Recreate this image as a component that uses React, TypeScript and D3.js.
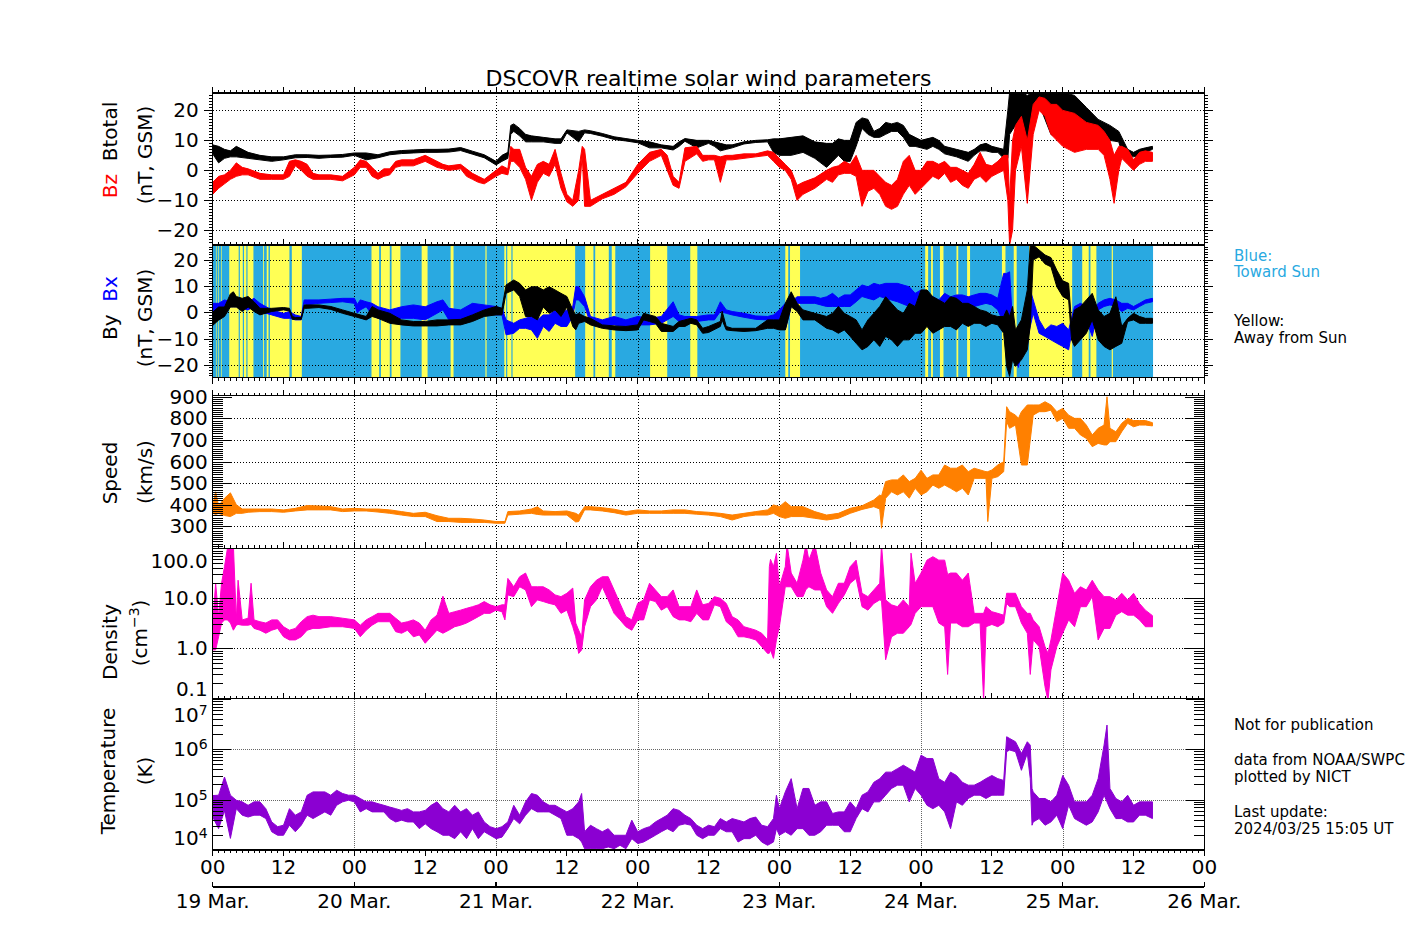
import React from "react";
import * as d3 from "d3";

// [hour since 19 Mar 00 UT, low, high]
type Row = [number, number, number];

const btotal: Row[] = [
  [0,5.5,8.5],[1,2.5,8],[2,4,7],[3,4.5,6.5],[4,4.5,8],[6,4,6],[8,3.5,5],[10,3,4.5],[12,3.5,4.5],[14,4.2,5.2],[16,4.3,5.2],[18,4,5],[20,4.3,5.1],[22,4.4,5.3],[24,5,5.8],[26,3.5,5.8],[28,4.2,5.2],[30,5.2,6.2],[32,5.6,6.6],[34,5.8,6.8],[36,6,7],[38,6,7],[40,6.1,7.1],[42,6.6,7.6],[44,5.4,6.4],[46,4.2,5.2],[48,1.8,3],[49,3,5],[50,4,6],[50.5,12,15],[51,13,15.5],[52,11.5,14],[53,9.5,12],[54,9.5,11.5],[56,9.5,11],[58,9,10.5],[59,9,10.5],[60,12.5,13.5],[62,9.5,13],[63,12.5,13.5],[64,12.3,13.2],[66,11.4,12.3],[68,10.3,11.2],[70,9.8,10.6],[72,9.2,10],[74,7.5,9.5],[76,7.5,8.5],[78,6.8,8],[79,8,9.5],[80,9.7,10.6],[82,7.5,10],[84,9,10],[85,8,9.5],[86,6.5,9],[87,7,8.5],[88,7.5,8.5],[90,8.8,9.5],[92,9.3,10],[94,9.5,10.2],[95,6,10.5],[96,5,10.5],[98,5,11],[100,6,11.5],[102,4,9.5],[104,1,9],[105,3,9],[106,5,10.5],[107,3,10],[108,3,10],[109,8,16],[110,14,17.5],[111,12,17],[112,11,13],[113,11,14],[114,12,16],[115,13,15.5],[116,13,16],[117,11,15],[118,8,12],[119,8,11],[120,7.5,10],[121,7,10.5],[122,8,11],[123,7,10],[124,5.5,8],[126,4.5,7],[128,3,6],[129,5,7],[130,6.5,8.5],[131,6.5,9],[132,6,8],[133,6,7.5],[134,4,7],[134.7,4,20],[135,12,26],[136,15,26],[137,11,26],[138,9,25],[139,18,26],[140,22,26],[141,17,26],[142,12,26],[143,11,26],[144,10,26],[146,11,25],[148,12,21],[150,12,17],[152,10,15],[153.5,9.5,13],[154,6,11],[155,5.5,7],[156,4.5,6],[157,5,7],[158,6,7.5],[159.2,7,8]
];

const bz: Row[] = [
  [0,-8,-4],[1,-6,-2],[2,-4.5,-1.5],[3,-3,0],[4,-2,2.5],[5,-1.5,1],[6,-1.5,0.5],[8,-3,-1],[10,-3,-1.5],[12,-3,-1.5],[13,-2,3],[14,1.5,3.5],[15,0,3],[16,-2,2],[17,-3,-1],[18,-3,-1.5],[20,-3,-1.5],[22,-3.5,-2],[24,-1.5,1],[25,1,3.5],[26,1,3],[27,-2,1],[28,-3,-1],[29,-2,0.5],[30,-1.5,0.5],[31,1,3],[32,1.5,3.5],[34,1.5,3.5],[36,3,5],[38,1,3],[39,0.5,2],[40,0,1.5],[42,0.5,2],[43,-2,0.5],[44,-3,-1],[45,-4,-2],[46,-4.5,-3],[48,-2,0],[49,-1,1.5],[50,-1.5,0.5],[50.5,3,8],[51,3,7],[52,1,7],[53,-3,1],[54,-10,-2],[55,-4,2],[56,-1,3],[57,-2,2],[58,2,7],[59,-6,-1],[60,-10.5,-8],[61,-12,-10],[62,-10,0],[62.6,5,8],[63,-12,7],[64,-12,-10],[66,-9.5,-8],[68,-8,-6],[70,-5.5,-4],[72,-1,2],[74,3,6],[76,5,7],[77,0,5],[78,-5,-2],[79,-6,-4],[80,3,7.5],[82,5.5,8],[83,3,5],[84,3.5,5],[85,3.5,5],[86,-4,4.5],[87,3.5,5],[88,3.5,5],[90,4,5.5],[92,4.5,5.5],[94,5,6.5],[95,3,6],[96,1,4],[97,0,2],[98,-3,0],[99,-10,-5],[100,-8,-4],[102,-6,-2.5],[104,-3,0],[105,-4,1],[106,-1.5,1.5],[107,-1,3],[108,-1,2],[109,-2,5],[110,-12,0],[111,-7,0],[112,-6,0],[113,-8,-2],[114,-12,-4],[115,-13,-5],[116,-12,-3],[117,-8,3],[118,-5,5],[119,-8,0],[120,-6,0],[121,-4,3],[122,-2,3],[123,-3,2],[124,-1,3],[125,-4,1],[126,-3,1],[127,-5,0],[128,-6,-1],[129,-3,2],[130,-2,6],[131,-4,2],[132,-2,1.5],[133,-1,3],[134,0,5],[134.7,-10,5],[135,-25,-10],[135.5,-20,10],[136,0,15],[137,8,18],[138,-11,10],[139,12,22],[140,20,24.5],[141,18,24],[142,12,22],[143,10,22],[144,8,20],[146,6,19],[148,7,16],[150,7,15],[151,5,13],[152,-3,10],[152.7,-11,5],[153.5,0,8],[154,4,8],[155,2,7],[156,0,3.5],[157,2,6],[158,3,6.5],[159.2,3,6]
];

const by: Row[] = [
  [0,-5,0],[1,-3,2],[2,-1.6,2],[3,2,7],[3.5,2,7.8],[4,2,6],[5,0.3,5.3],[6,2,6],[7,0.3,4],[8,-1,1.5],[10,0.3,1.5],[12,0.9,1.8],[13,0.5,1.5],[13.5,-2.7,-1.6],[14,-2.7,-2],[15,-2.7,-2],[15.5,1.5,2.8],[16,1.5,2.8],[18,1.8,2.8],[20,1.1,2.2],[22,-0.4,0.9],[24,-1.6,-0.4],[26,-2.9,-1.6],[27,-1.6,2.2],[28,-2.3,0.9],[30,-4.2,-0.4],[32,-4.8,-2.9],[34,-5.2,-3.5],[36,-5.2,-3.5],[38,-5.2,-2.9],[40,-4.8,-2.9],[42,-4.8,-2.7],[44,-3.5,-1],[46,-1.6,0.9],[48,-1,2.2],[49,-1,1.5],[49.7,7.2,10.4],[51,8.5,12.3],[52,6,11],[53,-1.6,8.5],[54,-1.6,9.7],[55,-2.9,9.7],[56,2,8.5],[57,-0.4,9.7],[58,0.9,8.5],[59,-1.6,7.2],[60,2,6],[61,-5.4,0.9],[61.5,-6.7,-1],[62,-4.2,-0.4],[63,-3.5,-1.6],[64,-4.8,-2.3],[66,-6.1,-4.8],[68,-6.7,-5.2],[70,-7,-5.4],[72,-6.7,-4.8],[73,-2.9,-0.4],[74,-3.5,-1],[75,-4.2,-1.6],[76,-7.3,-4.2],[78,-7.3,-5.4],[79,-5.4,-3.5],[80,-5.4,-2.9],[81,-4.2,-2.3],[82,-4.8,-2.9],[83,-8,-6.1],[84,-7.7,-5.4],[86,-5.4,-3.5],[86.3,-3,0.4],[87,-6.7,-5.4],[88,-7,-6.1],[90,-7.3,-6.1],[92,-7,-6.1],[94,-6.1,-2.9],[95,-6.1,-2.9],[96,-6.7,-2.9],[97,-6.7,3.4],[98,2.1,7.8],[99,0.3,3.4],[100,-2.9,0.9],[102,-2.9,-0.4],[104,-6.1,-1.6],[105,-6.7,-0.4],[106,-8,2.2],[107,-6.7,-0.4],[108,-9.2,-1.6],[109,-11.8,-2.9],[110,-14.3,-6.7],[111,-13,-2.9],[112,-10.5,-0.4],[113,-13,2.2],[114,-9.2,5.9],[115,-10.5,3.4],[116,-13,0.9],[117,-10.5,-0.4],[118,-10.5,3.4],[119,-8,2.2],[120,-8,8.5],[121,-5.4,8.5],[122,-8,5.9],[123,-6.7,4.7],[124,-5.4,3.4],[125,-5.4,5.9],[126,-6.7,5.3],[127,-4.2,3.4],[128,-5.4,3.4],[129,-4.2,2.2],[130,-4.2,0.9],[131,-5.4,0.3],[132,-4.2,-1],[133,-4.8,-1.6],[134,-8,-1.6],[134.5,-20.6,0.9],[135,-24.4,-1.6],[135.5,-18.1,2.2],[136,-20.6,-6.7],[137,-18.1,-2.9],[138,-14.3,8.5],[138.5,-5,25.6],[139,19.9,25.6],[140,21.1,23.7],[141,18.4,21.8],[142,17.3,20.8],[143,9.7,16],[144,6,12],[145,4.7,11],[145.5,-10.5,-4.2],[146,-13,0.9],[147,-10.5,2.2],[148,-8,4.7],[149,-2.9,7.2],[150,-10.5,0.9],[151,-13,-1.6],[152,-14.3,-0.4],[153,-13,5.9],[154,-11.8,-5.4],[155,-3.5,-2.3],[156,-2.9,-0.4],[157,-4.2,-1.6],[158,-4.2,-2.3],[159.2,-4.2,-2.3]
];

const bx: Row[] = [
  [0,-4.2,3.4],[1,-0.4,3.4],[2,0.9,4.7],[3,2.1,4],[4,2.1,4],[5,1.5,4],[6,0.9,4],[7,2.2,5.3],[8,0.3,3.4],[10,-1,0.9],[12,-2.3,-0.4],[13,-2.3,0.3],[14,-2.9,-1],[15,-2.9,-1.6],[15.5,3.4,4.7],[16,2.8,4.7],[18,3.4,4.7],[20,3.7,5],[22,4,5.3],[24,3.4,5.3],[24.5,-0.3,3],[25,0.9,4.7],[26,2.1,4],[27,-1,3.4],[28,-2.3,2.1],[30,-2.9,0.9],[32,-2.3,2.1],[34,-2.3,2.8],[36,-2.9,2.1],[38,-0.4,4],[39,0.9,4.7],[40,-2.9,1.5],[42,-2.9,0.9],[44,-1.6,3.4],[46,-0.4,2.8],[48,-1,2.2],[49,-1,1.5],[49.7,-8.6,-2.9],[51,-8,-4.2],[52,-6.1,-2.9],[53,-6.1,-2.3],[54,-6.7,-1.6],[55,-9.9,-2.9],[56,-5.4,-1],[57,-7.3,-1],[58,-4.2,0.9],[59,-5.4,-0.4],[60,-5.4,0.9],[61,-1.6,2.2],[61.5,4.7,9.7],[62,4.7,9.7],[63,2.2,5.9],[64,-4.2,-1.6],[66,-5.4,-2.9],[68,-4.8,-1.6],[70,-5.4,-2.9],[72,-4.8,-1.6],[74,-4.8,-2.3],[76,-4.2,-1.6],[78,-1.6,4],[79,-3.5,-1],[80,-4.2,-1.6],[82,-3.5,-1.6],[84,-2.9,-1],[85,-2.9,-1],[86,0.3,4],[87,-0.4,0.9],[88,-1,0.3],[90,-1.9,-0.4],[92,-2.7,-1.4],[94,-2.9,-1.6],[95,-3.5,-1],[96,-4.2,0.9],[97,-6.7,3.4],[98,2.1,4],[99,3.4,5.9],[100,3.4,5.9],[102,3.4,5.9],[103,2.8,5.3],[104,2.2,5.9],[105,2.2,7.2],[106,2.2,5.3],[107,2.2,6.6],[108,2.2,6.6],[109,4,8.5],[110,6,10.4],[111,5.3,9.7],[112,4.7,11],[113,6,10.4],[114,5.3,11],[116,4,11],[118,2.2,9.7],[119,0.9,7.2],[120,2.2,8.5],[121,0.9,6.6],[122,0.9,5.9],[123,-0.4,4.7],[124,0.9,7.2],[125,0.9,5.9],[126,2.2,6.6],[127,2.2,6.6],[128,0.9,5.9],[129,2.2,6.6],[130,2.8,7.2],[131,3.4,7.2],[132,2.8,6.6],[133,0.9,5.3],[134,-4.2,14.8],[134.5,-8,14.8],[135,-4.2,15.4],[135.5,-13,-4.2],[136,-16.8,-8],[136.5,-21,-8],[137,-14.3,-5.4],[138,-10.5,-2.9],[138.5,-5.4,8.5],[139,-0.4,4.7],[140,-8,-2.9],[141,-9.2,-6.7],[142,-10.5,-4.8],[143,-11.8,-5.4],[144,-13,-4.2],[145,-14.3,-6.7],[146,-1.6,2.2],[147,0.9,3.4],[148,-2.9,2.2],[149,-9.2,-1.6],[150,0.9,3.4],[151,2.2,4.7],[152,2.8,5.3],[153,2.2,4.7],[154,0.3,3.4],[155,1.5,3.4],[156,0.9,2.2],[157,2.2,3.4],[158,3.4,4.7],[159.2,4,5.3]
];

// IMF sector "away from Sun" intervals [start hour, end hour]
const awaySectors: [number, number][] = [
  [0.55,0.65],[0.95,1.05],[1.45,1.55],[2.8,4.4],[4.6,5.1],[5.3,5.7],[5.9,6.9],[8.55,8.7],[9.15,9.45],[9.7,13],[13.4,15.1],[26.9,28.2],[28.5,30],[30.3,31.8],[35.4,36.4],[40.3,40.8],[46.2,46.4],[49.4,49.7],[49.9,50.6],[50.8,61.4],[63.1,64.5],[64.8,67.1],[67.6,68.2],[74.1,77],[80.9,82.1],[97,97.5],[97.8,99.5],[120.7,121.2],[121.7,122],[123.2,123.8],[126,126.3],[127.8,128.3],[133.7,134.3],[135.7,136.2],[138.3,145.6],[147.3,148.4],[148.7,149.7],[152.3,152.5]
];
const sectorEnd = 159.3;

const speed: Row[] = [
  [0,360,395],[0.5,355,460],[1,360,395],[2,350,430],[3,345,455],[4,360,400],[5,360,380],[6,365,380],[8,368,380],[10,368,380],[12,365,376],[14,371,383],[16,376,396],[18,376,394],[20,376,391],[22,368,380],[24,371,383],[26,371,380],[28,366,380],[30,360,376],[32,352,368],[34,345,360],[36,345,365],[38,322,349],[40,322,337],[42,318,337],[44,318,334],[46,318,329],[48,314,322],[49.5,314,322],[50,352,368],[52,356,371],[54,360,380],[55,355,390],[56,352,371],[58,352,368],[60,352,371],[61.5,320,360],[62,322,352],[63,376,391],[64,376,391],[66,371,386],[68,363,379],[70,352,368],[72,360,376],[74,360,371],[76,360,371],[78,360,376],[80,360,376],[82,356,368],[84,352,365],[86,345,360],[88,329,352],[90,345,360],[92,352,368],[94,352,376],[95,360,399],[96,345,391],[97,337,414],[98,345,391],[100,345,391],[102,337,368],[104,329,352],[106,337,360],[108,360,383],[110,378,395],[112,391,422],[113,380,445],[113.3,291,440],[114,430,507],[115,460,515],[116,445,515],[117,460,538],[118,430,507],[119,476,522],[120,445,560],[121,460,522],[122,491,538],[123,476,538],[124,491,584],[125,476,569],[126,460,569],[127,476,584],[128,445,553],[129,522,569],[130,522,561],[131,522,553],[131.3,322,553],[132,522,561],[133,530,584],[134,553,599],[134.5,785,854],[135,754,831],[136,769,815],[136.5,677,800],[137,584,831],[138,584,862],[139,815,862],[140,831,862],[141,831,877],[142,838,862],[143,785,831],[144,800,846],[145,754,815],[146,754,800],[147,723,800],[148,707,769],[149,669,723],[150,684,754],[151,677,769],[151.5,677,900],[152,692,754],[153,692,738],[154,738,777],[155,777,800],[156,761,790],[157,769,790],[158,769,790],[159.2,765,780]
];

const density: Row[] = [
  [0,0.93,3.2],[0.5,0.93,20],[1,1.7,4.3],[1.5,3.2,20],[2,3.7,43],[2.5,3.7,100],[3,3.2,120],[3.5,2.3,120],[4,2.9,3.7],[4.3,3,23],[5,2.9,3.7],[6,2.9,4],[6.5,3,20],[7,2.5,3.7],[8,2.3,3.4],[9,2,3.2],[10,2.3,3.7],[11,2.5,3.7],[12,1.7,2.7],[13,1.47,2.3],[14,1.47,2.5],[15,1.7,3.4],[16,2.3,4.3],[17,2.5,4.6],[18,2.5,4.3],[20,2.7,4.3],[22,2.7,4],[24,2.5,3.7],[25,1.7,2.9],[26,2.3,3.7],[27,2.9,4.3],[28,3.4,5],[30,3.4,5],[31,2.15,4],[32,2,3.2],[33,2.3,3.4],[34,1.7,3.7],[35,1.85,3.2],[36,1.26,2.3],[37,1.7,3.7],[38,2.3,4.6],[39,2,11],[40,2.3,5],[41,2.7,5.4],[42,2.9,5.8],[43,3.2,6.3],[44,3.7,6.8],[45,4.3,7.4],[46,5,8.6],[47,5,7.4],[48,5.8,6.8],[49,5.4,7.4],[49.5,3.7,7.4],[50,11.7,25],[51,10.8,17],[52,17,27],[53,14.7,32],[54,6.8,17],[55,9.3,17],[56,8.6,17],[57,7.9,14.7],[58,7.4,11.7],[59,5,10.8],[60,5.8,12.6],[61,2.7,16],[61.5,1.7,3.2],[62,0.79,2.3],[62.5,0.93,1.7],[63,2.7,9.3],[64,6.8,17],[65,9.3,23],[66,17,27],[67,9.3,27],[68,5,14.7],[69,3.7,7.9],[70,2.7,4.3],[71,2.3,3.7],[72,3.7,7.9],[73,3.7,9.3],[74,9.3,20],[75,8.6,14.7],[76,5.8,10.8],[77,6.8,10.8],[78,4.3,14.7],[79,3.7,6.8],[80,3.7,6.8],[81,3.4,6.8],[82,5,14.7],[83,3.7,7.4],[84,3.7,7.9],[85,7.4,10.8],[86,6.8,10],[87,3.4,7.9],[88,2.7,4.3],[89,1.7,3.7],[90,1.7,2.7],[91,1.6,2.5],[92,1.47,2.3],[93,1.08,2],[94,0.79,1.47],[94.3,0.8,43],[94.5,0.93,60],[95,0.63,43],[95.5,1.47,79],[96,2.7,17],[97,17,43],[97.3,17,120],[98,17,32],[99,10.8,20],[100,10.8,58],[100.5,15,120],[101,17,58],[102,14.7,120],[103,14.7,32],[104,6.8,14.7],[105,5,10.8],[106,7.9,20],[107,11.7,20],[108,20,43],[109,25,58],[110,6.8,12.6],[111,5.8,10.8],[112,7.9,14.7],[113,9.3,20],[113.3,9,120],[114,0.59,9.3],[115,1.7,7.4],[116,2,6.8],[117,2,9.3],[118,2.7,6.8],[118.3,3,80],[119,5,20],[120,6.8,32],[121,6.8,58],[122,6.8,68],[123,3.2,58],[124,2.7,58],[124.5,0.3,30],[125,3.2,32],[126,3.2,32],[127,2.7,23],[128,2.7,32],[129,3.2,5],[130,3.2,5],[130.6,0.09,5],[131,2.7,6.8],[132,3,5.4],[133,2.7,5],[134,3.2,4.6],[134.5,7.9,12.6],[135,6.8,12.6],[136,6.8,12.6],[137,3.2,6.8],[138,2,5],[138.5,0.3,5],[139,1.47,3.7],[140,1.08,2.7],[141,0.17,1.08],[141.5,0.09,0.8],[142,0.37,1.47],[143,1.08,6.8],[144,2,32],[145,3.7,23],[146,2.7,12.6],[147,6.8,17],[148,6.8,14.7],[149,10.8,23],[150,1.47,14.7],[151,2.5,10.8],[152,2.5,10.8],[153,4.6,9.3],[154,5.4,12.6],[155,4.6,9.3],[156,4.6,12.6],[157,3.7,7.9],[158,2.7,5.8],[159.2,2.7,4.5]
];

const temperature: Row[] = [
  [0,4.5e4,1.2e5],[1,2.65e4,1.22e5],[2,6e4,2.8e5],[3,1.7e4,1.22e5],[4,6.6e4,9.7e4],[5,4.9e4,9e4],[6,4.5e4,7.7e4],[7,4.9e4,9e4],[8,4.9e4,9e4],[9,4.2e4,6.6e4],[10,2.3e4,3.6e4],[11,1.96e4,2.9e4],[12,1.96e4,3.1e4],[13,3.1e4,6.6e4],[14,2.3e4,4.9e4],[15,3.1e4,5.7e4],[16,4.9e4,1.22e5],[17,4.2e4,1.42e5],[18,4.9e4,1.42e5],[19,5.7e4,1.42e5],[20,4.9e4,1.22e5],[21,7.7e4,1.53e5],[22,9e4,1.32e5],[23,9.7e4,1.22e5],[24,9e4,1.22e5],[25,5.7e4,1.05e5],[26,6.6e4,9e4],[27,5.7e4,9e4],[28,5.7e4,8.3e4],[29,5.7e4,7.7e4],[30,4.2e4,7.1e4],[31,3.6e4,6.6e4],[32,3.9e4,6.1e4],[33,3.6e4,6.6e4],[34,3.6e4,5.7e4],[35,2.65e4,5.7e4],[36,3.3e4,6.1e4],[37,2.65e4,7.7e4],[38,2.3e4,9e4],[39,1.96e4,6.6e4],[40,1.96e4,5.7e4],[41,1.68e4,7.7e4],[42,2.3e4,5.7e4],[43,1.68e4,6.6e4],[44,2.65e4,4.9e4],[45,1.68e4,5.7e4],[46,2.3e4,3.6e4],[47,1.96e4,2.9e4],[48,1.68e4,2.65e4],[49,1.8e4,2.9e4],[50,2.65e4,3.6e4],[51,4.2e4,7.7e4],[52,3.3e4,4.9e4],[53,4.9e4,9e4],[54,6.6e4,1.32e5],[55,5.7e4,1.22e5],[56,5.7e4,9e4],[57,5.7e4,7.7e4],[58,4.9e4,7.7e4],[59,4.2e4,6.6e4],[60,1.96e4,5.7e4],[61,1.96e4,6.6e4],[62,1.68e4,9e4],[62.5,1.44e4,1.32e5],[63,1.06e4,2.3e4],[64,1.06e4,3.1e4],[65,1.06e4,2.65e4],[66,1.06e4,2.3e4],[67,1.15e4,2.65e4],[68,1.06e4,1.96e4],[69,1.24e4,1.96e4],[70,1.06e4,1.96e4],[71,1.68e4,3.9e4],[72,1.34e4,2.3e4],[73,1.44e4,2.65e4],[74,1.68e4,2.9e4],[75,1.96e4,3.6e4],[76,2.3e4,4.2e4],[77,2.65e4,4.9e4],[78,2.3e4,6.6e4],[79,3.1e4,6.1e4],[80,3.3e4,4.9e4],[81,3.1e4,4.2e4],[82,1.96e4,3.1e4],[83,1.68e4,2.65e4],[84,1.96e4,3.1e4],[85,1.96e4,2.9e4],[86,2.65e4,4.2e4],[87,2.3e4,3.6e4],[88,2.3e4,4.2e4],[89,1.44e4,3.9e4],[90,1.68e4,3.6e4],[91,1.68e4,4.2e4],[92,1.96e4,4.5e4],[93,1.44e4,3.1e4],[94,1.24e4,2.9e4],[95,1.44e4,4.2e4],[95.5,2.65e4,1.22e5],[96,1.96e4,6.6e4],[97,2.3e4,1.42e5],[98,1.96e4,2.6e5],[99,2.65e4,6.6e4],[100,2.65e4,1.66e5],[101,1.96e4,1.66e5],[102,1.96e4,7.7e4],[103,2.3e4,9e4],[104,3.1e4,9e4],[105,3.1e4,5.3e4],[106,3.1e4,5.7e4],[107,2.3e4,5.7e4],[108,2.3e4,9e4],[109,4.2e4,6.6e4],[110,6.6e4,1.22e5],[111,5.7e4,1.42e5],[112,9e4,2.2e5],[113,9e4,2.6e5],[114,1.22e5,3.5e5],[115,1.66e5,3.5e5],[116,1.93e5,4.1e5],[117,1.93e5,4.8e5],[118,9e4,4.1e5],[119,1.66e5,3.5e5],[120,1.22e5,7.6e5],[121,7.7e4,6.5e5],[122,6.6e4,6.5e5],[123,7.7e4,2.6e5],[124,5.7e4,2.2e5],[125,2.65e4,3.5e5],[126,9e4,3e5],[127,7.7e4,2.2e5],[128,1.05e5,1.93e5],[129,1.22e5,1.93e5],[130,1.22e5,2.2e5],[131,1.05e5,2.6e5],[132,1.22e5,3e5],[133,1.22e5,2.6e5],[134,1.22e5,2.4e5],[134.5,8.9e5,1.76e6],[135,9.6e5,1.63e6],[136,8.9e5,1.4e6],[137,3.8e5,8.2e5],[138,8.2e5,1.4e6],[138.5,2.6e5,1.2e6],[138.8,3.1e4,1.66e5],[139,3.6e4,1.42e5],[140,4.2e4,1.05e5],[141,3.1e4,1.05e5],[142,3.6e4,9e4],[143,4.9e4,1.22e5],[144,2.65e4,3e5],[145,7.7e4,1.93e5],[146,4.2e4,9e4],[147,3.6e4,9e4],[148,3.1e4,9e4],[149,3.6e4,1.22e5],[150,5.7e4,2.6e5],[151,1.22e5,1.2e6],[151.5,9e4,3e6],[152,6.6e4,1.66e5],[153,4.2e4,1.05e5],[154,4.2e4,9e4],[155,3.6e4,1.22e5],[156,3.6e4,7.7e4],[157,4.9e4,9e4],[158,4.9e4,9e4],[159.2,4.2e4,9e4]
];

const dayLabels = ["19 Mar.", "20 Mar.", "21 Mar.", "22 Mar.", "23 Mar.", "24 Mar.", "25 Mar.", "26 Mar."];
const bTickLabels: [number, string][] = [[20, "20"], [10, "10"], [0, "0"], [-10, "\u221210"], [-20, "\u221220"]];
const speedTickLabels: [number, string][] = [[900, "900"], [800, "800"], [700, "700"], [600, "600"], [500, "500"], [400, "400"], [300, "300"]];
const densTickLabels: [number, string][] = [[100, "100.0"], [10, "10.0"], [1, "1.0"], [0.1, "0.1"]];
const tempTickLabels: [number, string][] = [[1e7, "7"], [1e6, "6"], [1e5, "5"], [1e4, "4"]];

const FONT = "'DejaVu Sans', Verdana, sans-serif";
const X0 = 212.7, X1 = 1204.4;
const x = d3.scaleLinear().domain([0, 168]).range([X0, X1]);

const yB = d3.scaleLinear().domain([-24.8, 25.8]).range([244.7, 93]);
const yXY = d3.scaleLinear().domain([-24.9, 25.6]).range([377.7, 245]);
const yV = d3.scaleLinear().domain([198, 905]).range([548.3, 395.7]);
const yN = d3.scaleLog().domain([0.1, 100]).range([698.3, 548.3]);
const yT = d3.scaleLog().domain([1e4, 1e7]).range([850, 698.7]);

const C = {
  red: "#ff0000", blue: "#0000ff", bg: "#29a9e1", yellow: "#ffff55",
  orange: "#ff8000", magenta: "#ff00cc", purple: "#8b00d2", sky: "#29a9e1",
};

const hours = d3.range(0, 169);
const dayHours = d3.range(24, 168, 24);

function Band({ data, y, color, clip }: { data: Row[]; y: any; color: string; clip: string }) {
  const gen = d3.area<Row>().x((d) => x(d[0])).y0((d) => y(d[1])).y1((d) => y(d[2]));
  return <path d={gen(data) || ""} fill={color} stroke={color} strokeWidth={1} strokeLinejoin="round" clipPath={`url(#${clip})`} />;
}

function logMinors(lo: number, hi: number) {
  const out: number[] = [];
  for (let d = lo; d < hi; d *= 10) for (let k = 2; k <= 9; k++) out.push(k * d);
  return out;
}

function YTicks({ y, majors, minors, majLen, minLen, outward }: any) {
  const items: JSX.Element[] = [];
  const push = (vals: number[], len: number, tag: string) => {
    vals.forEach((v, i) => {
      const yy = Math.round(y(v)) + 0.5;
      const dl = outward ? -len : len;
      items.push(<line key={tag + "l" + i} x1={X0} x2={X0 + dl} y1={yy} y2={yy} />);
      items.push(<line key={tag + "r" + i} x1={X1} x2={X1 - dl} y1={yy} y2={yy} />);
    });
  };
  push(majors, majLen, "M");
  push(minors, minLen, "m");
  return <g stroke="#000" strokeWidth={1} shapeRendering="crispEdges">{items}</g>;
}

function XTicks({ yLine, dir }: { yLine: number; dir: number }) {
  return (
    <g stroke="#000" strokeWidth={1} shapeRendering="crispEdges">
      {hours.map((h) => (
        <line key={h} x1={x(h)} x2={x(h)} y1={yLine} y2={yLine + dir * (h % 12 === 0 ? 6 : 3)} />
      ))}
    </g>
  );
}

function Grid({ y, values, top, bottom, dash, color }: any) {
  return (
    <g stroke={color} strokeWidth={1} strokeDasharray={dash} shapeRendering="crispEdges">
      {values.map((v: number, i: number) => (
        <line key={"h" + i} x1={X0} x2={X1} y1={Math.round(y(v)) + 0.5} y2={Math.round(y(v)) + 0.5} />
      ))}
      {dayHours.map((h) => (
        <line key={"v" + h} x1={Math.round(x(h)) + 0.5} x2={Math.round(x(h)) + 0.5} y1={top} y2={bottom} />
      ))}
    </g>
  );
}

function Frame({ top, bottom }: { top: number; bottom: number }) {
  return <rect x={X0} y={top} width={X1 - X0} height={bottom - top} fill="none" stroke="#000" strokeWidth={1.5} shapeRendering="crispEdges" />;
}

function VLabel({ cx, cy, children }: any) {
  return (
    <text transform={`translate(${cx},${cy}) rotate(-90)`} textAnchor="middle" fontSize={20} dy="0.35em">
      {children}
    </text>
  );
}

export default function App() {
  const panels = [
    { id: "p1", y: yB }, { id: "p2", y: yXY }, { id: "p3", y: yV }, { id: "p4", y: yN }, { id: "p5", y: yT },
  ];
  const ext = (s: any) => { const r = s.range(); return [Math.min(r[0], r[1]), Math.max(r[0], r[1])]; };

  const intMinorsB = d3.range(-24, 26).filter((v) => v % 10 !== 0);
  const speedMinors = d3.range(200, 910, 10).filter((v) => v % 100 !== 0);

  return (
    <svg width={1417} height={944} style={{ position: "absolute", left: 0, top: 0, background: "#fff" }} fontFamily={FONT}>
      <defs>
        {panels.map((p) => {
          const [t, b] = ext(p.y);
          return (
            <clipPath id={p.id} key={p.id}>
              <rect x={X0} y={t} width={X1 - X0} height={b - t} />
            </clipPath>
          );
        })}
      </defs>

      <text x={(X0 + X1) / 2} y={86} textAnchor="middle" fontSize={22}>DSCOVR realtime solar wind parameters</text>

      {/* Panel 2 sector background */}
      <g clipPath="url(#p2)">
        <rect x={x(0)} y={ext(yXY)[0]} width={x(sectorEnd) - x(0)} height={ext(yXY)[1] - ext(yXY)[0]} fill={C.bg} />
        {awaySectors.map(([s, e], i) => (
          <rect key={i} x={x(s)} y={ext(yXY)[0]} width={x(e) - x(s)} height={ext(yXY)[1] - ext(yXY)[0]} fill={C.yellow} />
        ))}
      </g>

      {/* Grids */}
      <Grid y={yB} values={[-20, -10, 0, 10, 20]} top={ext(yB)[0]} bottom={ext(yB)[1]} dash="1,2" color="#000" />
      <Grid y={yXY} values={[-20, -10, 0, 10, 20]} top={ext(yXY)[0]} bottom={ext(yXY)[1]} dash="1,2" color="#000" />
      <Grid y={yV} values={[300, 400, 500, 600, 700, 800]} top={ext(yV)[0]} bottom={ext(yV)[1]} dash="1,2" color="#000" />
      <Grid y={yN} values={[1, 10]} top={ext(yN)[0]} bottom={ext(yN)[1]} dash="1,2" color="#000" />
      <Grid y={yT} values={[1e5, 1e6]} top={ext(yT)[0]} bottom={ext(yT)[1]} dash="1,1" color="#666" />

      {/* Data */}
      <Band data={btotal} y={yB} color="#000" clip="p1" />
      <Band data={bz} y={yB} color={C.red} clip="p1" />
      <Band data={bx} y={yXY} color={C.blue} clip="p2" />
      <Band data={by} y={yXY} color="#000" clip="p2" />
      <Band data={speed} y={yV} color={C.orange} clip="p3" />
      <Band data={density} y={yN} color={C.magenta} clip="p4" />
      <Band data={temperature} y={yT} color={C.purple} clip="p5" />

      {/* Frames */}
      {panels.map((p) => { const [t, b] = ext(p.y); return <Frame key={p.id} top={t} bottom={b} />; })}

      {/* X ticks */}
      <XTicks yLine={ext(yB)[0]} dir={-1} />
      <XTicks yLine={ext(yXY)[0]} dir={-1} />
      <XTicks yLine={ext(yXY)[1]} dir={1} />
      <XTicks yLine={ext(yV)[0]} dir={-1} />
      <XTicks yLine={ext(yN)[0]} dir={-1} />
      <XTicks yLine={ext(yT)[0]} dir={-1} />
      <XTicks yLine={ext(yT)[1]} dir={1} />

      {/* Y ticks */}
      <YTicks y={yB} majors={[-20, -10, 0, 10, 20]} minors={intMinorsB} majLen={9} minLen={4} outward />
      <YTicks y={yXY} majors={[-20, -10, 0, 10, 20]} minors={intMinorsB} majLen={9} minLen={4} outward />
      <YTicks y={yV} majors={[300, 400, 500, 600, 700, 800, 900]} minors={speedMinors} majLen={19} minLen={10} outward={false} />
      <YTicks y={yN} majors={[0.1, 1, 10, 100]} minors={logMinors(0.1, 100)} majLen={20} minLen={10} outward={false} />
      <YTicks y={yT} majors={[1e4, 1e5, 1e6, 1e7]} minors={logMinors(1e4, 1e7)} majLen={18} minLen={10} outward={false} />

      {/* Y tick labels */}
      <g fontSize={20} textAnchor="end">
        {bTickLabels.map(([v, s]) => <text key={"b" + v} x={X0 - 14} y={yB(v)} dy="0.35em">{s}</text>)}
        {bTickLabels.map(([v, s]) => <text key={"xy" + v} x={X0 - 14} y={yXY(v)} dy="0.35em">{s}</text>)}
        {speedTickLabels.map(([v, s]) => <text key={"v" + v} x={X0 - 5} y={yV(v)} dy="0.35em">{s}</text>)}
        {densTickLabels.map(([v, s], i) => (
          <text key={"n" + v} x={X0 - 5} y={yN(v) + (i === 0 ? 13 : i === densTickLabels.length - 1 ? -9 : 0)} dy="0.35em">{s}</text>
        ))}
        {tempTickLabels.map(([v, s], i) => (
          <text key={"t" + v} x={X0 - 5} y={yT(v) + (i === 0 ? 16 : i === tempTickLabels.length - 1 ? -12 : 0)} dy="0.35em">
            10<tspan fontSize={14} dy="-0.5em">{s}</tspan>
          </text>
        ))}
      </g>

      {/* Y axis titles */}
      <VLabel cx={110} cy={150}><tspan fill={C.red}>Bz</tspan><tspan>{"\u00a0\u00a0Btotal"}</tspan></VLabel>
      <VLabel cx={145} cy={155}>(nT, GSM)</VLabel>
      <VLabel cx={110} cy={308}><tspan>{"By\u00a0\u00a0"}</tspan><tspan fill={C.blue}>Bx</tspan></VLabel>
      <VLabel cx={145} cy={318}>(nT, GSM)</VLabel>
      <VLabel cx={110} cy={473}>Speed</VLabel>
      <VLabel cx={145} cy={472}>(km/s)</VLabel>
      <VLabel cx={110} cy={642}>Density</VLabel>
      <VLabel cx={140} cy={633}>(cm<tspan fontSize={14} dy="-0.6em">{"\u22123"}</tspan><tspan dy="0.42em">)</tspan></VLabel>
      <VLabel cx={108} cy={771}>Temperature</VLabel>
      <VLabel cx={145} cy={771}>(K)</VLabel>

      {/* X axis labels */}
      <g fontSize={20} textAnchor="middle">
        {d3.range(0, 169, 12).map((h) => (
          <text key={h} x={x(h)} y={874}>{h % 24 === 0 ? "00" : "12"}</text>
        ))}
      </g>
      <g stroke="#000" strokeWidth={1.5} shapeRendering="crispEdges">
        <line x1={X0} x2={X1} y1={887} y2={887} />
        {d3.range(0, 169, 24).map((h) => <line key={h} x1={x(h)} x2={x(h)} y1={887} y2={882} />)}
      </g>
      <g fontSize={20} textAnchor="middle">
        {dayLabels.map((s, i) => <text key={s} x={x(i * 24)} y={908}>{s}</text>)}
      </g>

      {/* Right-side notes */}
      <g fontSize={15}>
        <text x={1234} y={261} fill={C.sky}>Blue:</text>
        <text x={1234} y={277} fill={C.sky}>Toward Sun</text>
        <text x={1234} y={326}>Yellow:</text>
        <text x={1234} y={343}>Away from Sun</text>
        <text x={1234} y={730}>Not for publication</text>
        <text x={1234} y={765}>data from NOAA/SWPC</text>
        <text x={1234} y={782}>plotted by NICT</text>
        <text x={1234} y={817}>Last update:</text>
        <text x={1234} y={834}>2024/03/25 15:05 UT</text>
      </g>
    </svg>
  );
}
